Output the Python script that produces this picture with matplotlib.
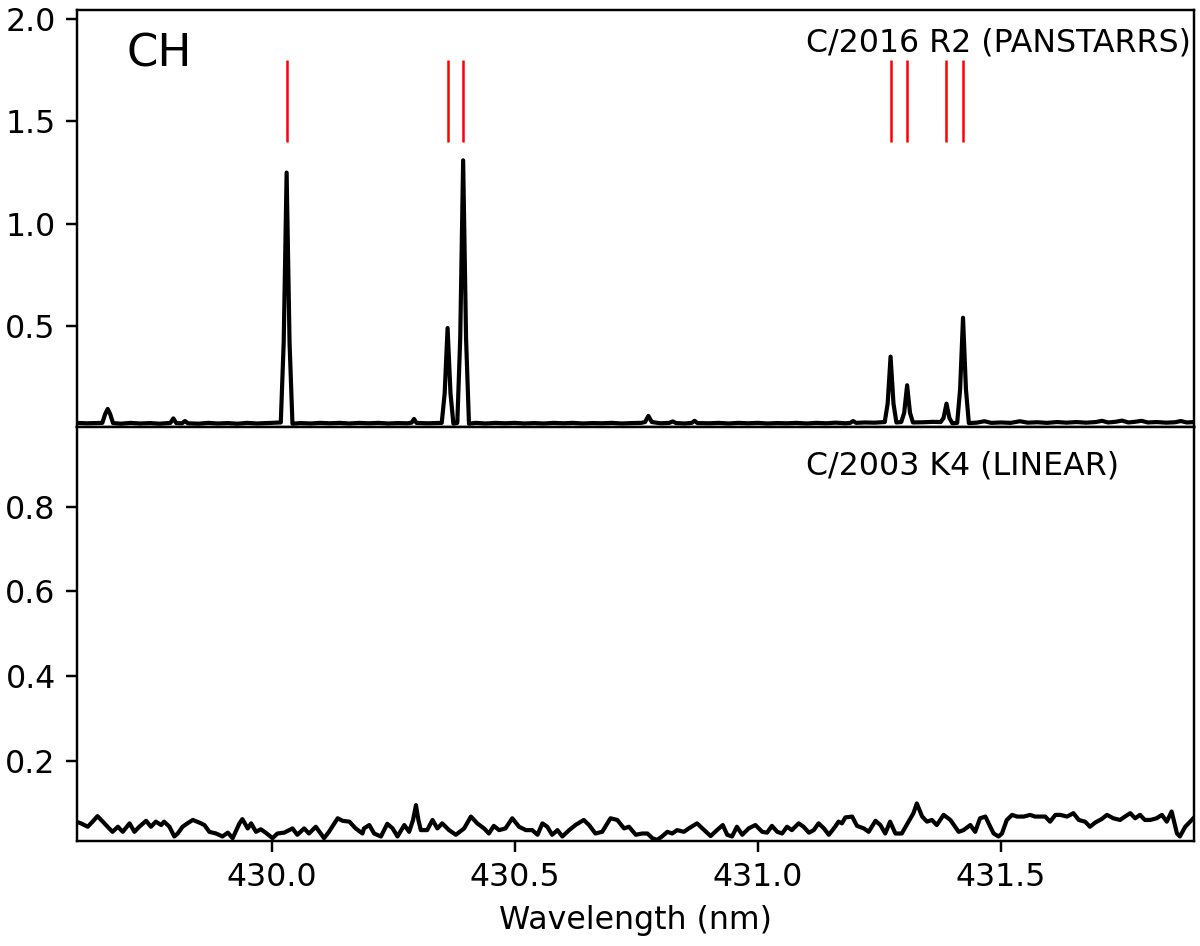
import matplotlib
matplotlib.use("Agg")
import matplotlib.pyplot as plt

# ---- data ----
# top panel: C/2016 R2 (PANSTARRS)
TOP_WL = [
    429.600, 429.620, 429.640, 429.652, 429.658, 429.663, 429.668, 429.674,
    429.690, 429.710, 429.730, 429.750, 429.770, 429.792, 429.798, 429.804,
    429.816, 429.822, 429.828, 429.850, 429.870, 429.890, 429.910, 429.930,
    429.950, 429.970, 429.990, 430.008, 430.019, 430.025, 430.031, 430.037,
    430.043, 430.060, 430.080, 430.100, 430.120, 430.140, 430.160, 430.180,
    430.200, 430.220, 430.240, 430.260, 430.280, 430.288, 430.293, 430.298,
    430.320, 430.340, 430.350, 430.356, 430.362, 430.368, 430.374, 430.382,
    430.388, 430.394, 430.400, 430.406, 430.420, 430.440, 430.460, 430.480,
    430.500, 430.520, 430.540, 430.560, 430.580, 430.600, 430.620, 430.640,
    430.660, 430.680, 430.700, 430.720, 430.740, 430.760, 430.768, 430.775,
    430.782, 430.800, 430.818, 430.825, 430.832, 430.850, 430.864, 430.870,
    430.876, 430.900, 430.920, 430.940, 430.960, 430.980, 431.000, 431.020,
    431.040, 431.060, 431.080, 431.100, 431.120, 431.140, 431.160, 431.180,
    431.190, 431.196, 431.202, 431.220, 431.240, 431.261, 431.267, 431.273,
    431.279, 431.285, 431.295, 431.301, 431.307, 431.313, 431.319, 431.340,
    431.360, 431.376, 431.382, 431.388, 431.394, 431.400, 431.410, 431.416,
    431.422, 431.428, 431.434, 431.450, 431.466, 431.480, 431.500, 431.520,
    431.539, 431.555, 431.575, 431.595, 431.615, 431.635, 431.655, 431.675,
    431.695, 431.708, 431.720, 431.735, 431.749, 431.762, 431.775, 431.789,
    431.802, 431.820, 431.840, 431.858, 431.870, 431.882, 431.898,
]
TOP_FLUX = [
    0.026, 0.024, 0.025, 0.026, 0.070, 0.094, 0.070, 0.025,
    0.022, 0.026, 0.023, 0.025, 0.022, 0.026, 0.048, 0.025,
    0.024, 0.035, 0.024, 0.022, 0.026, 0.023, 0.025, 0.022,
    0.026, 0.023, 0.025, 0.027, 0.028, 0.420, 1.250, 0.420,
    0.022, 0.025, 0.023, 0.026, 0.024, 0.026, 0.023, 0.026,
    0.024, 0.026, 0.023, 0.025, 0.024, 0.027, 0.045, 0.026,
    0.024, 0.025, 0.026, 0.170, 0.490, 0.170, 0.022, 0.026,
    0.440, 1.310, 0.440, 0.022, 0.026, 0.023, 0.026, 0.024,
    0.026, 0.023, 0.025, 0.023, 0.026, 0.024, 0.026, 0.023,
    0.025, 0.024, 0.026, 0.023, 0.025, 0.026, 0.030, 0.060,
    0.030, 0.024, 0.026, 0.033, 0.025, 0.023, 0.026, 0.036,
    0.025, 0.024, 0.026, 0.023, 0.026, 0.024, 0.026, 0.023,
    0.025, 0.024, 0.026, 0.023, 0.026, 0.024, 0.027, 0.024,
    0.026, 0.035, 0.026, 0.028, 0.027, 0.030, 0.120, 0.350,
    0.120, 0.028, 0.030, 0.075, 0.210, 0.075, 0.028, 0.029,
    0.031, 0.030, 0.050, 0.120, 0.050, 0.024, 0.026, 0.190,
    0.540, 0.190, 0.025, 0.027, 0.034, 0.026, 0.028, 0.026,
    0.034, 0.027, 0.029, 0.026, 0.030, 0.027, 0.030, 0.027,
    0.030, 0.036, 0.028, 0.031, 0.037, 0.028, 0.031, 0.036,
    0.028, 0.030, 0.027, 0.029, 0.035, 0.028, 0.030,
]

# bottom panel: C/2003 K4 (LINEAR)
BOT_WL = [
    429.598, 429.608, 429.622, 429.632, 429.642, 429.653, 429.666, 429.673,
    429.684, 429.694, 429.708, 429.718, 429.728, 429.742, 429.752, 429.762,
    429.773, 429.779, 429.790, 429.800, 429.807, 429.817, 429.827, 429.838,
    429.851, 429.862, 429.872, 429.886, 429.899, 429.910, 429.920, 429.934,
    429.940, 429.951, 429.958, 429.968, 429.978, 429.988, 430.002, 430.012,
    430.026, 430.043, 430.053, 430.067, 430.077, 430.091, 430.108, 430.118,
    430.136, 430.146, 430.160, 430.173, 430.187,
    430.190, 430.201, 430.211, 430.225, 430.238, 430.249, 430.259, 430.273,
    430.283, 430.291, 430.297, 430.302, 430.307, 430.320, 430.331, 430.341,
    430.351, 430.365, 430.379, 430.396, 430.410, 430.423, 430.437, 430.447,
    430.457, 430.468, 430.481, 430.495, 430.509, 430.523, 430.536, 430.547,
    430.557, 430.567, 430.577, 430.588, 430.598, 430.612, 430.625, 430.642,
    430.653, 430.666, 430.680, 430.697, 430.711, 430.725, 430.735, 430.749,
    430.762,
    430.773, 430.783, 430.793, 430.803, 430.814, 430.824, 430.834, 430.848,
    430.858, 430.875, 430.886, 430.903, 430.916, 430.928, 430.937, 430.947,
    430.957, 430.968, 430.981, 430.995, 431.009, 431.019, 431.029, 431.040,
    431.050, 431.060, 431.070, 431.084, 431.094, 431.105, 431.115, 431.125,
    431.136, 431.146, 431.159, 431.166, 431.173, 431.180, 431.194, 431.204,
    431.218, 431.228, 431.242, 431.252, 431.262, 431.272, 431.283, 431.296,
    431.310, 431.320,
    431.327, 431.338, 431.348, 431.358, 431.368, 431.382, 431.396, 431.413,
    431.423, 431.437, 431.447, 431.457, 431.468, 431.478, 431.485, 431.495,
    431.502, 431.512, 431.523, 431.533, 431.547, 431.560, 431.570, 431.581,
    431.591, 431.601, 431.612, 431.622, 431.636, 431.649, 431.660, 431.673,
    431.683, 431.694, 431.707, 431.718, 431.731, 431.745, 431.755, 431.766,
    431.776, 431.786, 431.796, 431.807, 431.820, 431.831, 431.841, 431.851,
    431.862, 431.868, 431.879, 431.889, 431.899,
]
BOT_FLUX = [
    0.056, 0.052, 0.044, 0.056, 0.069, 0.056, 0.040, 0.032,
    0.044, 0.032, 0.052, 0.032, 0.044, 0.058, 0.044, 0.056,
    0.048, 0.056, 0.044, 0.021, 0.028, 0.044, 0.052, 0.060,
    0.054, 0.048, 0.032, 0.028, 0.021, 0.030, 0.017, 0.052,
    0.062, 0.040, 0.052, 0.032, 0.038, 0.030, 0.017, 0.028,
    0.030, 0.040, 0.025, 0.040, 0.028, 0.044, 0.017, 0.032,
    0.064, 0.058, 0.056, 0.040, 0.028,
    0.040, 0.048, 0.028, 0.021, 0.051, 0.040, 0.021, 0.048,
    0.032, 0.060, 0.095, 0.060, 0.036, 0.036, 0.060, 0.040,
    0.052, 0.036, 0.025, 0.040, 0.068, 0.052, 0.040, 0.028,
    0.046, 0.036, 0.040, 0.064, 0.044, 0.036, 0.036, 0.025,
    0.052, 0.044, 0.025, 0.036, 0.021, 0.036, 0.048, 0.060,
    0.048, 0.028, 0.032, 0.064, 0.060, 0.040, 0.044, 0.025,
    0.028,
    0.028, 0.017, 0.013, 0.021, 0.032, 0.028, 0.036, 0.032,
    0.040, 0.052, 0.040, 0.022, 0.036, 0.048, 0.025, 0.021,
    0.044, 0.025, 0.040, 0.048, 0.032, 0.030, 0.046, 0.032,
    0.028, 0.044, 0.036, 0.052, 0.044, 0.030, 0.036, 0.052,
    0.040, 0.025, 0.044, 0.056, 0.052, 0.066, 0.068, 0.046,
    0.040, 0.032, 0.058, 0.048, 0.028, 0.056, 0.028, 0.028,
    0.056, 0.076,
    0.099, 0.068, 0.056, 0.060, 0.048, 0.072, 0.060, 0.032,
    0.036, 0.048, 0.032, 0.064, 0.068, 0.044, 0.028, 0.021,
    0.028, 0.060, 0.072, 0.068, 0.068, 0.072, 0.068, 0.068,
    0.068, 0.056, 0.072, 0.072, 0.068, 0.076, 0.060, 0.056,
    0.044, 0.054, 0.062, 0.072, 0.064, 0.060, 0.068, 0.076,
    0.064, 0.072, 0.060, 0.060, 0.064, 0.072, 0.056, 0.080,
    0.028, 0.021, 0.044, 0.056, 0.068,
]

# CH line positions (red markers)
CH_LINES = [430.031, 430.362, 430.394, 431.273, 431.307, 431.388, 431.422]
MARK_LO, MARK_HI = 1.40, 1.80

TOP_YTICKS = [0.5, 1.0, 1.5, 2.0]
BOT_YTICKS = [0.2, 0.4, 0.6, 0.8]
XTICKS = [430.0, 430.5, 431.0, 431.5]

S = 2.2  # scale factor vs. matplotlib defaults
plt.rcParams.update({
    "font.family": ["DejaVu Sans"],
    "font.size": 22.8,
    "axes.linewidth": 0.8 * S,
    "xtick.major.size": 3.5 * S,
    "ytick.major.size": 3.5 * S,
    "xtick.major.width": 0.8 * S,
    "ytick.major.width": 0.8 * S,
    "xtick.major.pad": 3.5 * S,
    "ytick.major.pad": 3.5 * S,
    "axes.labelpad": 4.0 * S,
})


def main():
    fig = plt.figure(figsize=(12, 9.46), dpi=100)
    ax_top = fig.add_axes([0.0642, 0.5491, 0.9308, 0.4403])
    ax_bot = fig.add_axes([0.0642, 0.1113, 0.9308, 0.4378], sharex=ax_top)

    # top: PANSTARRS spectrum + CH markers
    ax_top.plot(TOP_WL, TOP_FLUX, color="black", lw=3.0)
    ax_top.vlines(CH_LINES, MARK_LO, MARK_HI, color="red", lw=1.8)
    ax_top.set_ylim(0.008, 2.045)
    ax_top.set_yticks(TOP_YTICKS)
    ax_top.tick_params(axis="x", which="both", bottom=False, labelbottom=False)
    ax_top.text(0.0445, 0.894, "CH", transform=ax_top.transAxes,
                fontsize=32.5, ha="left", va="center")
    ax_top.text(0.6526, 0.921, "C/2016 R2 (PANSTARRS)",
                transform=ax_top.transAxes, ha="left", va="center")

    # bottom: LINEAR spectrum
    ax_bot.plot(BOT_WL, BOT_FLUX, color="black", lw=3.0)
    ax_bot.set_ylim(0.011, 0.989)
    ax_bot.set_yticks(BOT_YTICKS)
    ax_bot.set_xticks(XTICKS)
    ax_bot.set_xticklabels([f"{v:.1f}" for v in XTICKS])
    ax_bot.set_xlim(429.60, 431.897)
    ax_bot.set_xlabel("Wavelength (nm)")
    ax_bot.text(0.6526, 0.905, "C/2003 K4 (LINEAR)",
                transform=ax_bot.transAxes, ha="left", va="center")

    fig.savefig("out.png", dpi=100)
    plt.close(fig)


if __name__ == "__main__":
    main()
